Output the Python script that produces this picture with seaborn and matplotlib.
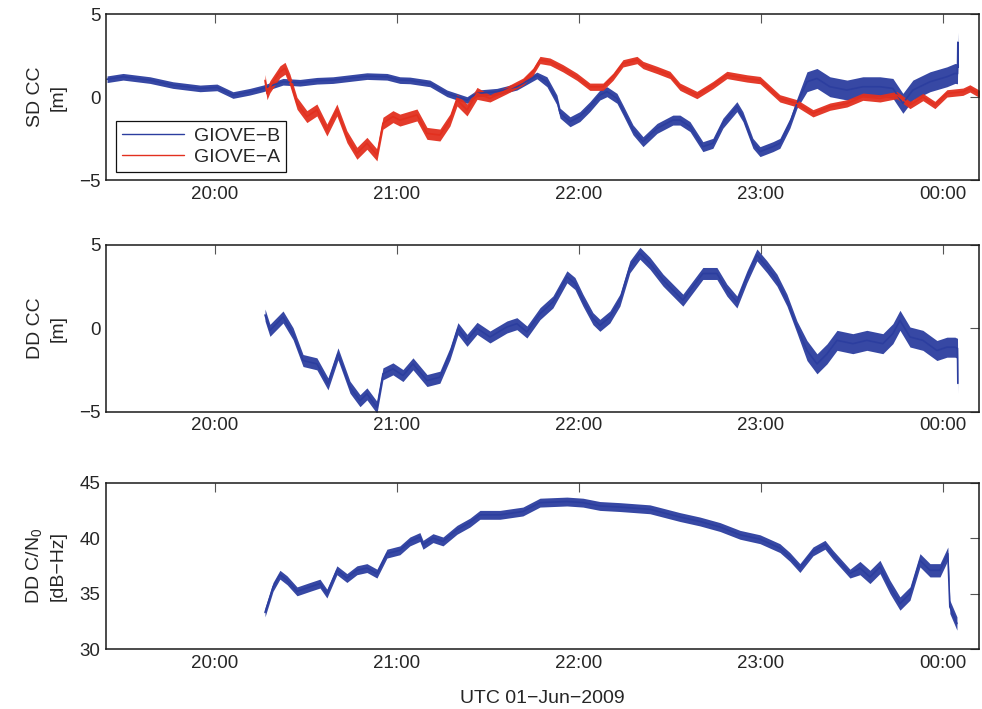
import numpy as np
import pandas as pd
import matplotlib
matplotlib.use("Agg")
import matplotlib.pyplot as plt
from matplotlib.ticker import FuncFormatter
import seaborn as sns

# ---- data: time in decimal hours UTC (values > 24 are after midnight) ----
t_sd_b = [19.407, 19.495, 19.643, 19.769, 19.918, 20.011, 20.099, 20.192, 20.264,
          20.374, 20.467, 20.560, 20.648, 20.835, 20.945, 21.016, 21.071, 21.181,
          21.275, 21.385, 21.440, 21.549, 21.659, 21.769, 21.824, 21.879, 21.896,
          21.951, 22.005, 22.060, 22.115, 22.154, 22.209, 22.242, 22.297, 22.352,
          22.429, 22.516, 22.555, 22.610, 22.681, 22.736, 22.791, 22.868, 22.901,
          22.956, 22.995, 23.066, 23.104, 23.159, 23.198, 23.253, 23.308, 23.379,
          23.473, 23.560, 23.654, 23.725, 23.780, 23.835, 23.929, 24.022, 24.066,
          24.080, 24.082, 24.084]
sd_b = [1.07, 1.22, 1.02, 0.72, 0.52, 0.58, 0.12, 0.32, 0.52,
        0.92, 0.86, 0.98, 1.02, 1.26, 1.22, 1.02, 1.00, 0.82,
        0.22, -0.18, 0.22, 0.32, 0.62, 1.30, 0.92, -0.18, -0.97,
        -1.49, -1.18, -0.58, 0.12, 0.32, -0.08, -0.78, -1.98, -2.69,
        -1.89, -1.39, -1.39, -1.78, -2.99, -2.79, -1.58, -0.58, -1.18,
        -2.79, -3.29, -2.99, -2.79, -1.58, -0.38, 0.92, 1.12, 0.62,
        0.42, 0.62, 0.62, 0.52, -0.38, 0.42, 0.92, 1.22, 1.42,
        1.40, 3.30, 1.80]

t_sd_a = [20.275, 20.286, 20.302, 20.357, 20.385, 20.412, 20.451, 20.505, 20.560,
          20.615, 20.670, 20.725, 20.780, 20.835, 20.890, 20.923, 20.978, 21.016,
          21.110, 21.165, 21.236, 21.291, 21.330, 21.385, 21.440, 21.511, 21.604,
          21.692, 21.747, 21.786, 21.841, 21.912, 21.989, 22.060, 22.132, 22.187,
          22.242, 22.319, 22.352, 22.429, 22.500, 22.555, 22.648, 22.736, 22.813,
          22.923, 22.995, 23.104, 23.198, 23.286, 23.379, 23.473, 23.560, 23.654,
          23.747, 23.819, 23.890, 23.956, 24.022, 24.110, 24.148, 24.231]
sd_a = [1.00, 0.20, 0.62, 1.52, 1.73, 1.02, -0.38, -1.18, -0.78,
        -1.99, -0.78, -2.39, -3.39, -2.79, -3.49, -1.58, -1.18, -1.39,
        -1.08, -2.19, -2.29, -1.39, -0.18, -0.78, 0.22, -0.08, 0.42,
        0.92, 1.52, 2.23, 2.13, 1.73, 1.22, 0.62, 0.62, 1.22,
        2.03, 2.23, 1.93, 1.63, 1.33, 0.62, 0.12, 0.72, 1.33,
        1.12, 1.02, -0.08, -0.38, -0.98, -0.58, -0.38, 0.02, -0.08,
        0.12, -0.48, 0.00, -0.48, 0.22, 0.32, 0.52, 0.00]

t_dd = [20.275, 20.302, 20.374, 20.429, 20.484, 20.560, 20.621, 20.676, 20.742,
        20.797, 20.835, 20.890, 20.923, 20.978, 21.033, 21.088, 21.165, 21.236,
        21.291, 21.335, 21.385, 21.440, 21.511, 21.604, 21.659, 21.714, 21.786,
        21.857, 21.934, 21.978, 22.022, 22.077, 22.115, 22.170, 22.225, 22.280,
        22.335, 22.390, 22.462, 22.571, 22.626, 22.681, 22.758, 22.813, 22.868,
        22.923, 22.978, 23.033, 23.088, 23.143, 23.198, 23.253, 23.308, 23.363,
        23.418, 23.505, 23.582, 23.670, 23.725, 23.764, 23.819, 23.890, 23.967,
        24.022, 24.066, 24.080, 24.082]
dd_cc = [0.80, -0.12, 0.68, -0.32, -1.93, -2.13, -3.33, -1.53, -3.53,
         -4.34, -3.93, -4.74, -2.73, -2.43, -2.83, -2.13, -3.13, -2.93,
         -1.53, -0.02, -0.72, 0.00, -0.52, 0.08, 0.28, -0.22, 0.88,
         1.58, 3.09, 2.69, 1.69, 0.58, 0.18, 0.68, 1.69, 3.69,
         4.50, 3.90, 2.89, 1.69, 2.49, 3.29, 3.29, 2.29, 1.58,
         3.09, 4.40, 3.69, 2.89, 1.69, 0.08, -1.33, -2.13, -1.53,
         -0.72, -0.92, -0.72, -0.92, -0.32, 0.48, -0.52, -0.72, -1.33,
         -1.13, -1.13, -1.20, -3.30]

t_cn0 = [20.275, 20.302, 20.319, 20.357, 20.396, 20.451, 20.522, 20.577, 20.615,
         20.670, 20.725, 20.780, 20.835, 20.890, 20.945, 21.016, 21.071, 21.126,
         21.143, 21.198, 21.253, 21.330, 21.401, 21.456, 21.566, 21.692, 21.786,
         21.934, 22.022, 22.115, 22.225, 22.390, 22.555, 22.665, 22.775, 22.885,
         22.995, 23.104, 23.159, 23.214, 23.286, 23.352, 23.396, 23.489, 23.544,
         23.599, 23.654, 23.709, 23.764, 23.819, 23.874, 23.929, 23.984, 24.027,
         24.038, 24.077]
dd_cn0 = [33.3, 34.7, 35.6, 36.7, 36.2, 35.2, 35.6, 35.9, 35.0,
          37.1, 36.4, 37.1, 37.3, 36.8, 38.6, 38.9, 39.7, 40.1,
          39.4, 40.0, 39.7, 40.75, 41.4, 42.1, 42.1, 42.4, 43.2,
          43.3, 43.2, 42.9, 42.8, 42.6, 41.9, 41.5, 41.0, 40.3,
          39.9, 39.1, 38.3, 37.3, 38.8, 39.4, 38.5, 36.8, 37.3,
          36.5, 37.4, 35.6, 34.1, 35.0, 38.0, 37.1, 37.1, 38.6,
          33.8, 32.3]

hour_ticks = [20, 21, 22, 23, 24]
x_range = (19.401, 24.198)

# ---- style ----
BLUE = "#2c3e9f"
RED = "#e2301f"
TICK_FS = 13.5
LABEL_FS = 14

sns.set_style("white")
plt.rcParams["font.family"] = ["Liberation Sans", "DejaVu Sans"]
plt.rcParams["axes.unicode_minus"] = True
plt.rcParams["mathtext.fontset"] = "custom"
plt.rcParams["mathtext.rm"] = "Liberation Sans"
plt.rcParams["mathtext.it"] = "Liberation Sans"

fig = plt.figure(figsize=(9.82, 7.09), dpi=100)
left, width = 0.1079, 0.889
ax1 = fig.add_axes([left, 0.7461, width, 0.2341])
ax2 = fig.add_axes([left, 0.4193, width, 0.2352])
ax3 = fig.add_axes([left, 0.0846, width, 0.2346])


def noisy_trace(ax, t, y, color, spread, label=None):
    """Centre line plus a band showing the measurement scatter."""
    t = np.asarray(t)
    y = np.asarray(y)
    ax.fill_between(t, y - spread, y + spread, color=color, lw=0, alpha=0.95)
    sns.lineplot(x=t, y=y, ax=ax, color=color, lw=1.2, label=label,
                 estimator=None, sort=False)


def band(t, edges, widths):
    """Piecewise-constant half width of the scatter band."""
    t = np.asarray(t)
    return np.asarray(widths)[np.searchsorted(edges, t)]


noisy_trace(ax1, t_sd_b, sd_b, BLUE,
            band(t_sd_b, [21.8, 23.2], [0.2, 0.3, 0.6]), "GIOVE\u2212B")
noisy_trace(ax1, t_sd_a, sd_a, RED,
            band(t_sd_a, [21.5], [0.36, 0.22]), "GIOVE\u2212A")
noisy_trace(ax2, t_dd, dd_cc, BLUE, band(t_dd, [23.2], [0.36, 0.6]))
noisy_trace(ax3, t_cn0, dd_cn0, BLUE, band(t_cn0, [23.5], [0.4, 0.6]))

fmt_hour = FuncFormatter(lambda v, _: "%02d:00" % (int(round(v)) % 24))

for ax in (ax1, ax2, ax3):
    ax.set_xlim(*x_range)
    ax.set_xticks(hour_ticks)
    ax.xaxis.set_major_formatter(fmt_hour)
    ax.tick_params(direction="in", length=6.3, width=0.8, color="#555555",
                   top=True, right=True, labelsize=TICK_FS, pad=4)
    for sp in ax.spines.values():
        sp.set_visible(True)
        sp.set_color("#1a1a1a")
        sp.set_linewidth(1.1)
    ax.set_xlabel("")

ax1.set_ylim(-5, 5)
ax1.set_yticks([-5, 0, 5])
ax2.set_ylim(-5, 5)
ax2.set_yticks([-5, 0, 5])
ax3.set_ylim(30, 45)
ax3.set_yticks([30, 35, 40, 45])

ax1.set_ylabel("SD CC\n[m]", fontsize=LABEL_FS, linespacing=1.4)
ax2.set_ylabel("DD CC\n[m]", fontsize=LABEL_FS, linespacing=1.4)
ax3.set_ylabel("DD C/N$_0$\n[dB\u2212Hz]", fontsize=LABEL_FS, linespacing=1.4)
for ax in (ax1, ax2, ax3):
    ax.yaxis.set_label_coords(-0.045, 0.5)

ax3.set_xlabel("UTC 01\u2212Jun\u22122009", fontsize=LABEL_FS, labelpad=13)

leg = ax1.legend(loc="lower left", bbox_to_anchor=(0.0115, 0.048),
                 borderaxespad=0, frameon=True, fancybox=False,
                 edgecolor="#111111", framealpha=1, handlelength=3.2,
                 handletextpad=0.5, borderpad=0.3, labelspacing=0.2,
                 fontsize=LABEL_FS)
leg.get_frame().set_linewidth(0.9)
for h in leg.get_lines():
    h.set_linewidth(1.0)

fig.savefig("out.png", dpi=100)
